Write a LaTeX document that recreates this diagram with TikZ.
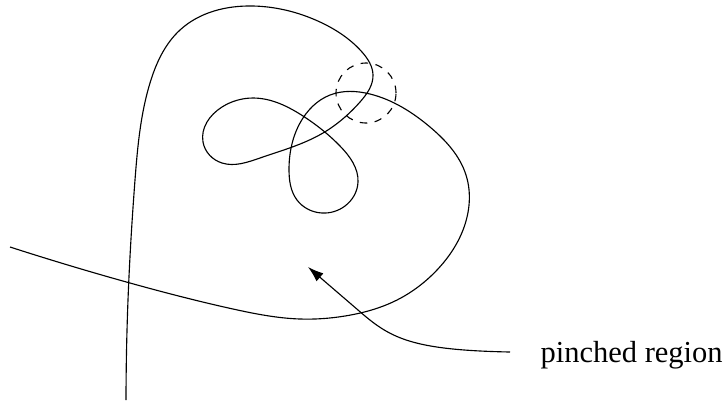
\documentclass[tikz,border=0pt]{standalone}
\usepackage{fontspec}
\setmainfont{Liberation Serif}
\usetikzlibrary{arrows.meta,hobby}
\begin{document}
\begin{tikzpicture}[x=0.4pt,y=-0.4pt,line width=0.45pt,
  curve/.style={line width=0.45pt,use Hobby shortcut},
  pinch/.style={draw,dashed,circle,minimum size=24pt,inner sep=0pt},
  lab/.style={font=\fontsize{12.2}{14}\selectfont,inner sep=0pt,anchor=base west}]
\useasboundingbox (0,0) rectangle (725,402);
\draw[curve] (126,400) .. (128,300) .. (135,180) .. (150,83) .. (180,30) .. (253,6) .. (320,22) .. (362,52) .. (373,75) .. (360,102) .. (323,133) .. (260,158) .. (222,163) .. (203,142) .. (222,107) .. (253,98) .. (303,116) .. (340,146) .. (358,182) .. (345,206) .. (322,213) .. (297,200) .. (289,170) .. (300,123) .. (330,95) .. (370,94) .. (430,127) .. (466,175) .. (463,230) .. (437,270) .. (397,300) .. (345,316) .. (300,319) .. (233,309) .. (130,283) .. (10,247);
\node[pinch] (c) at (366,93) {};
\node[lab] (lbl) at (540,362) {pinched region};
\coordinate (s) at (510,352);
\coordinate (t) at (308,267);
\draw[-{Latex[length=6.3pt,width=4.2pt]}] (s) .. controls (410,350) and (390,338) .. (358,310) -- (t);
\end{tikzpicture}
\end{document}
